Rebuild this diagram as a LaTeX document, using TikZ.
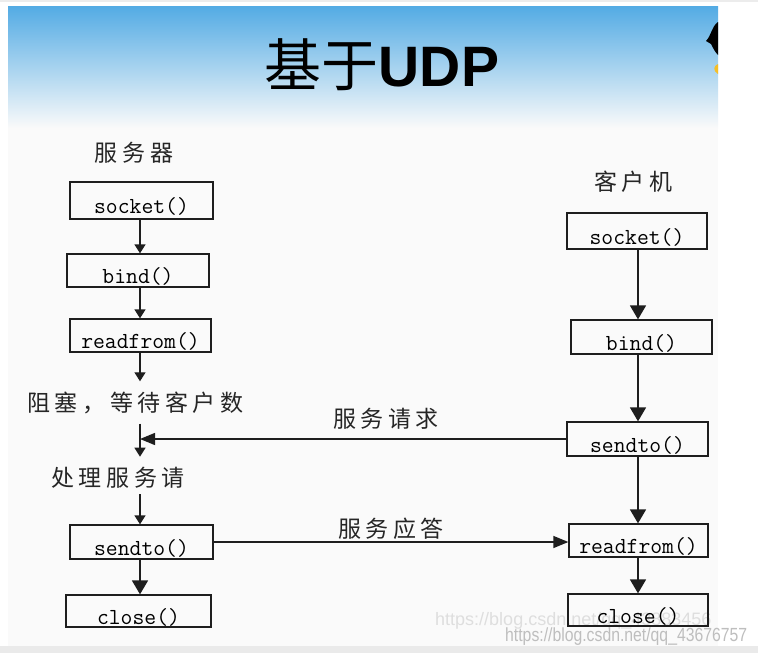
\documentclass[tikz,border=0pt]{standalone}
\usepackage{fontspec}
\usepackage{graphicx}
\setmainfont{Liberation Serif}
\newfontfamily\cjk[LetterSpace=20]{Noto Sans CJK SC}
\newfontfamily\cjktitle{Noto Sans CJK SC}
\newfontfamily\sansf{Liberation Sans}
\usetikzlibrary{arrows.meta}
\definecolor{skytop}{RGB}{83,171,228}
\definecolor{skymid}{RGB}{178,212,240}
\definecolor{slidebg}{RGB}{250,250,250}
\definecolor{topline}{RGB}{236,236,236}
\definecolor{botbar}{RGB}{234,234,234}
\definecolor{linec}{RGB}{30,30,30}
\definecolor{wmmain}{RGB}{190,190,190}
\definecolor{wmfaint}{RGB}{222,222,222}
\definecolor{tuxyellow}{RGB}{245,190,40}
\begin{document}
\begin{tikzpicture}[x=1pt,y=-1pt,
  box/.style={draw=linec, line width=1.3pt, inner sep=0pt, text height=28pt, text depth=2pt,
    font=\ttfamily\fontsize{23}{23}\selectfont},
  cjklab/.style={inner sep=0pt, font=\cjk\fontsize{23}{23}\selectfont, text=black!85},
  sarr/.style={draw=linec, line width=1.3pt, -{Triangle[length=9pt,width=11pt]}},
  barr/.style={draw=linec, line width=1.7pt, -{Triangle[length=14pt,width=16pt]}},
  harr/.style={draw=linec, line width=1.3pt, -{Triangle[length=15pt,width=12pt]}},
  wm/.style={inner sep=0pt, font=\sansf\fontsize{19}{19}\selectfont}]
\useasboundingbox (0,0) rectangle (758,653);
% page background
\fill[white] (0,0) rectangle (758,653);
\fill[topline] (0,0) rectangle (758,2);
\fill[slidebg] (8,6) rectangle (718,646);
\shade[top color=skytop, middle color=skymid, bottom color=slidebg] (8,6) rectangle (718,128);
\fill[botbar] (0,646) rectangle (758,653);
% partial penguin at slide edge
\fill[black] (718,22) .. controls (712,26) and (711,36) .. (706,41) -- (711,44) .. controls (713,48) and (715,52) .. (718,55) -- cycle;
\fill[tuxyellow] (718,64) .. controls (713,66) and (713,71) .. (718,74) -- cycle;
% title
\node[anchor=base, inner sep=0pt] (title) at (382,86)
  {{\cjktitle\fontsize{57}{57}\selectfont 基于}{\sansf\bfseries\fontsize{57}{57}\selectfont UDP}};
% faint watermark
\node[wm, anchor=base west, font=\sansf\fontsize{18}{18}\selectfont, text=wmfaint] (wm2) at (435,625) {https://blog.csdn.net/qq\_43883456};
% column headers
\node[cjklab] (server) at (134,152.5) {服务器};
\node[cjklab] (client) at (633.5,182) {客户机};
% server boxes
\node[box, minimum width=143pt, minimum height=37pt] (ssock) at (141.5,200.5) {socket()\hspace{12pt}};
\node[box, minimum width=142pt, minimum height=33pt] (sbind) at (138,270.5) {bind()};
\node[box, minimum width=141pt, minimum height=33pt] (sread) at (140.5,335.5) {readfrom()\hspace{10pt}};
\node[cjklab] (block) at (135.5,402.5) {阻塞，等待客户数};
\node[cjklab] (proc) at (118,477.5) {处理服务请};
\node[box, minimum width=143pt, minimum height=34pt] (ssend) at (141.5,542) {sendto()\hspace{8pt}};
\node[box, minimum width=145pt, minimum height=32pt] (sclose) at (138.5,611) {close()\hspace{22pt}};
% client boxes
\node[box, minimum width=140pt, minimum height=36pt] (csock) at (637,231) {socket()\hspace{8pt}};
\node[box, minimum width=141pt, minimum height=34pt] (cbind) at (641.5,337) {bind()\hspace{30pt}};
\node[box, minimum width=141pt, minimum height=34pt] (csend) at (637.5,439) {sendto()\hspace{7pt}};
\node[box, minimum width=139pt, minimum height=33pt] (cread) at (638.5,540.5) {readfrom()\hspace{7pt}};
\node[box, minimum width=140pt, minimum height=32pt] (cclose) at (638,610) {close()\hspace{20pt}};
% message labels
\node[cjklab] (lreq) at (386,419) {服务请求};
\node[cjklab] (lresp) at (391,528.5) {服务应答};
% spines
\coordinate (sspine) at (140,0);
\coordinate (cspine) at (638,0);
% server flow
\draw[sarr] (ssock.south -| sspine) -- (sbind.north -| sspine);
\draw[sarr] (sbind.south -| sspine) -- (sread.north -| sspine);
\draw[sarr, shorten >=10pt] (sread.south -| sspine) -- (block.north -| sspine);
\draw[sarr, shorten <=10pt, shorten >=10pt] (block.south -| sspine) -- (proc.north -| sspine);
\draw[sarr, shorten <=6pt] (proc.south -| sspine) -- (ssend.north -| sspine);
\draw[barr] (ssend.south -| sspine) -- (sclose.north -| sspine);
% client flow
\draw[barr] (csock.south -| cspine) -- (cbind.north -| cspine);
\draw[barr] (cbind.south -| cspine) -- (csend.north -| cspine);
\draw[barr] (csend.south -| cspine) -- (cread.north -| cspine);
\draw[barr] (cread.south -| cspine) -- (cclose.north -| cspine);
% messages
\draw[harr] (csend.west) -- (csend.west -| sspine);
\draw[harr] (ssend.east) -- (ssend.east -| cread.west);
% main watermark
\node[wm, anchor=base west, text=wmmain] (wm1) at (505,641) {\scalebox{0.83}[1]{https://blog.csdn.net/qq\_43676757}};
\end{tikzpicture}
\end{document}
